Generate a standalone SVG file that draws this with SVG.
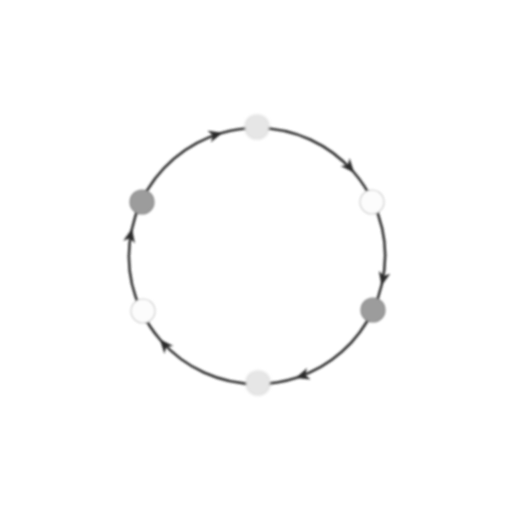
<svg xmlns="http://www.w3.org/2000/svg" width="512" height="512" viewBox="0 0 512 512">
<defs>
<filter id="soft" x="-20%" y="-20%" width="140%" height="140%"><feGaussianBlur stdDeviation="0.9"/></filter>
<filter id="softer" x="-50%" y="-50%" width="200%" height="200%"><feGaussianBlur stdDeviation="1.6"/></filter>
<marker id="arr" viewBox="0 0 14 12" refX="13" refY="6" markerWidth="14" markerHeight="12" markerUnits="userSpaceOnUse" orient="auto">
<path d="M0,0 L14,6 L0,12 L4,6 z" fill="#2a2a2a"/>
</marker>
</defs>
<style>
.edge{fill:none;stroke:#333333;stroke-width:2.6;marker-mid:url(#arr)}
.node circle{stroke-width:1.2}
.dark{fill:#9c9c9c;stroke:#8e8e8e}
.light{fill:#e6e6e6;stroke:#dadada}
.white{fill:#fcfcfc;stroke:#d0d0d0}
</style>
<rect width="512" height="512" fill="#ffffff"/>
<g id="connectors" filter="url(#soft)">
<path class="edge" d="M141,310.1 A128,128 0 0 1 131.8,229.4 A128,128 0 0 1 141,201.9"/>
<path class="edge" d="M141,201.9 A128,128 0 0 1 221.7,132.95 A128,128 0 0 1 257,128"/>
<path class="edge" d="M257,128 A128,128 0 0 1 353.6,172 A128,128 0 0 1 373,201.9"/>
<path class="edge" d="M373,201.9 A128,128 0 0 1 381.7,284.8 A128,128 0 0 1 373,310.1"/>
<path class="edge" d="M373,310.1 A128,128 0 0 1 296.6,377.7 A128,128 0 0 1 257,384"/>
<path class="edge" d="M257,384 A128,128 0 0 1 160.4,340 A128,128 0 0 1 141,310.1"/>
</g>
<g id="n1" class="node" filter="url(#softer)"><circle class="light" cx="257" cy="127" r="12"/></g>
<g id="n2" class="node" filter="url(#soft)"><circle class="white" cx="372" cy="202" r="12"/></g>
<g id="n3" class="node" filter="url(#soft)"><circle class="dark" cx="373" cy="310" r="12"/></g>
<g id="n4" class="node" filter="url(#softer)"><circle class="light" cx="258" cy="383" r="12"/></g>
<g id="n5" class="node" filter="url(#soft)"><circle class="white" cx="143" cy="311" r="12"/></g>
<g id="n6" class="node" filter="url(#soft)"><circle class="dark" cx="142" cy="202" r="12"/></g>
</svg>
